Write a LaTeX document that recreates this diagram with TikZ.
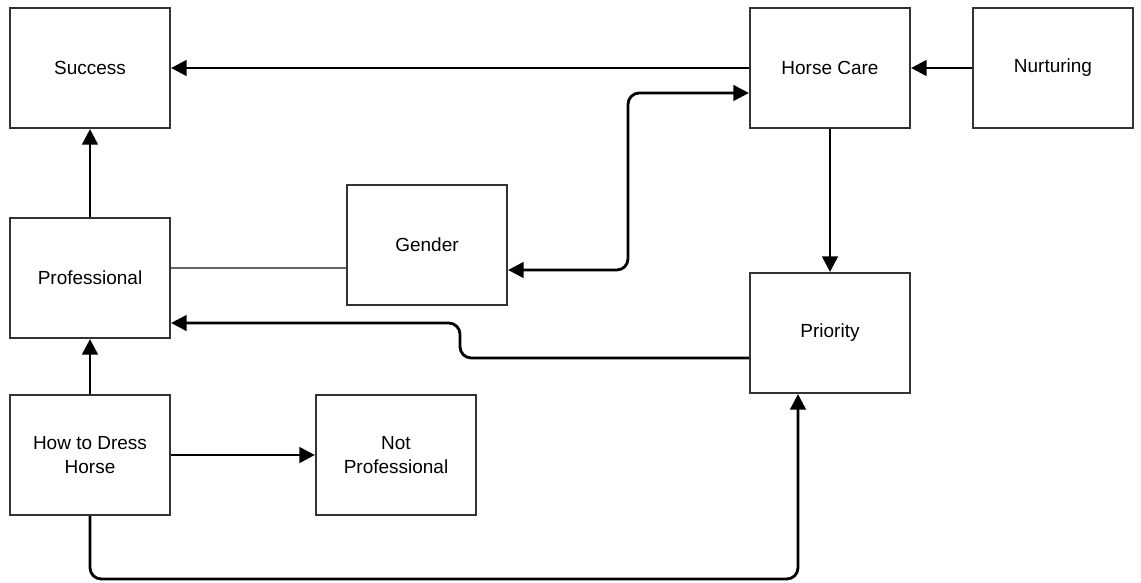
\documentclass[tikz,border=0pt]{standalone}
\usepackage{fontspec}
\setmainfont{Liberation Sans}
\usepackage{tikz}
\usetikzlibrary{positioning, arrows.meta}

\tikzset{
    box/.style={draw=black!80, line width=1.5pt, minimum width=4cm, minimum height=3cm,
        align=center, font=\fontsize{13.5}{17}\selectfont},
    link/.style={line width=2pt, -{Triangle[length=11pt,width=11pt]}},
    plain/.style={line width=2pt, draw=black!60}
}

\begin{document}
\begin{tikzpicture}[x=0.025cm, y=-0.025cm]
    \useasboundingbox (0,0) rectangle (1141,583);
    % boxes
    \node[box] (success) at (90,68) {Success};
    \node[box] (care) at (830,68) {Horse Care};
    \node[box] (nurt) at (1053,68) {Nurturing};
    \node[box] (gender) at (427,245) {Gender};
    \node[box] (prof) at (90,278) {Professional};
    \node[box] (prio) at (830,333) {Priority};
    \node[box] (dress) at (90,455) {How to Dress\\Horse};
    \node[box] (notprof) at (396,455) {Not\\Professional};
    % straight links
    \draw[link] (care) -- (success);
    \draw[link] (nurt) -- (care);
    \draw[link] (care) -- (prio);
    \draw[link] (prof) -- (success);
    \draw[link] (dress) -- (prof);
    \draw[link] (dress) -- (notprof);
    \draw[plain] (prof.east |- 0,268) -- (gender.west |- 0,268);
    % bent links
    \draw[link, {Triangle[length=11pt,width=11pt]}-{Triangle[length=11pt,width=11pt]}, rounded corners=8pt]
        (gender.east |- 0,270) -- (628,270) -- (628,93) -- (care.west |- 0,93);
    \draw[link, rounded corners=8pt]
        (prio.west |- 0,358) -- (460,358) -- (460,323) -- (prof.east |- 0,323);
    \draw[link, rounded corners=8pt]
        (dress.south) -- (90,579) -- (798,579) -- (prio.south -| 798,0);
\end{tikzpicture}
\end{document}
